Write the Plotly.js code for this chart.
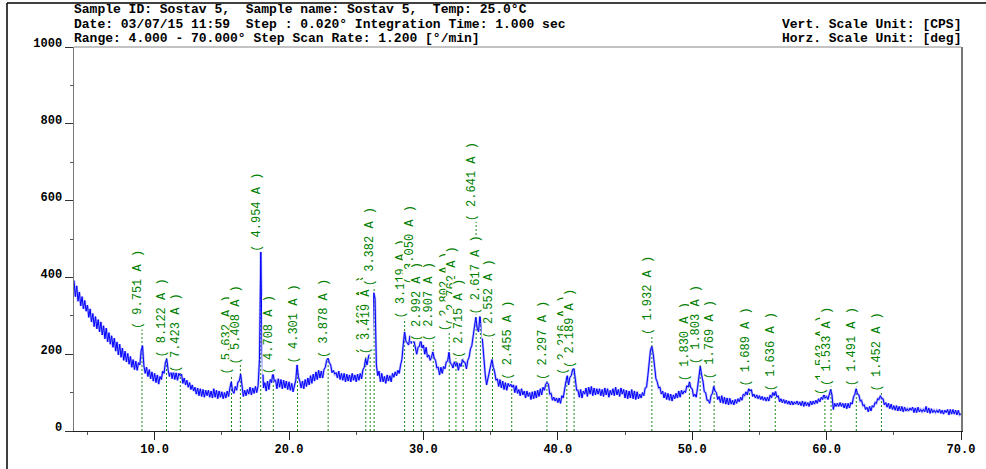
<!DOCTYPE html>
<html><head><meta charset="utf-8">
<script src="https://cdn.plot.ly/plotly-3.0.1.min.js"></script>
<style>html,body{margin:0;padding:0;background:#fff}</style>
</head><body><div id="chart" style="width:986px;height:469px"></div>
<script>
// Scan grid (2-theta, degrees) used to place the sampled readings
const scanStart = 4.0;
const scanStep = 0.1;
// Intensity (CPS) every 0.1 deg, 4.0 .. 70.0 (upper/lower edge of the noisy trace)
const counts = [
392,350,378,338,362,326,350,318,340,312,
328,296,318,284,306,272,298,266,290,258,
284,250,274,240,268,232,256,226,248,218,
242,208,232,198,226,192,216,184,208,180,
202,174,194,166,186,160,182,158,178,172,
210,222,170,150,166,142,160,136,154,130,
150,126,146,122,142,134,156,150,178,188,
160,142,160,136,156,134,152,132,150,144,
148,124,138,120,132,114,126,108,120,104,
114,96,112,92,110,90,108,88,106,92,
106,88,104,86,110,88,106,84,104,88,
102,84,100,86,104,90,112,128,104,98,
116,106,128,130,148,112,90,106,92,108,
96,114,94,112,98,116,100,118,186,467,
206,112,126,104,130,108,134,126,154,130,
132,110,136,114,134,110,132,112,130,108,
128,106,124,102,122,132,172,140,130,112,
130,110,134,116,138,120,144,124,148,130,
154,134,158,138,156,138,160,166,184,190,
178,172,152,158,148,152,138,156,134,150,
132,150,128,148,130,146,128,150,132,146,
128,148,132,150,136,160,166,188,172,192,
212,232,248,360,345,172,144,156,128,150,
128,142,124,146,130,144,128,150,140,154,
144,158,150,172,186,226,258,234,230,224,
248,228,252,234,220,200,218,220,238,216,
224,200,218,192,198,184,192,206,190,184,
164,166,146,166,150,168,162,180,182,205,
176,174,164,180,170,178,158,176,168,186,
180,178,162,184,192,214,222,254,272,296,
268,258,298,276,224,172,146,120,138,146,
172,186,166,154,132,136,116,134,112,130,
108,126,106,124,116,122,114,120,100,118,
98,108,92,110,94,104,86,104,90,100,
82,102,84,104,86,106,90,110,94,114,
106,122,126,122,96,98,80,88,78,86,
74,86,72,92,86,112,128,144,120,140,
144,160,162,136,106,106,88,108,86,104,
96,112,90,114,96,116,92,112,94,110,
96,110,92,108,90,112,94,110,88,106,
94,110,92,114,94,108,90,112,96,108,
86,106,84,104,86,108,84,104,82,102,
84,96,86,100,92,112,114,144,172,212,
220,200,168,136,128,112,114,96,104,86,
100,82,98,80,96,78,94,84,98,86,
104,88,106,96,104,100,118,114,128,112,
110,90,96,88,114,138,168,146,130,102,
100,80,80,72,92,98,116,104,100,82,
90,74,92,72,88,70,86,68,85,70,
80,68,82,72,84,76,88,80,96,92,
102,94,110,104,108,90,96,86,94,84,
92,82,90,80,88,78,88,78,94,86,
100,92,104,88,92,76,84,74,82,72,
80,70,78,68,78,68,76,70,78,68,
76,66,78,64,76,66,74,64,78,68,
78,70,80,72,84,76,88,82,96,86,
90,82,100,108,94,56,72,64,72,64,
74,64,72,60,72,58,72,60,74,70,
88,96,110,96,94,78,80,66,68,56,
62,50,64,52,66,62,74,72,84,82,
92,84,84,68,74,62,72,58,70,56,
66,54,66,52,64,52,64,50,62,52,
58,52,60,54,62,48,60,48,62,50,
56,50,56,50,64,48,60,46,58,48,
54,48,54,48,56,46,54,44,54,48,
56,42,56,44,56,44,54,42,54,42,
45
];

// Peak markers: d-spacing labels, positions (2-theta) and label base heights (CPS)
const peakD = ["9.751","8.122","7.423","5.632","5.408","4.954","4.708","4.301","3.878","3.463","3.419","3.382",
  "3.119","3.050","2.992","2.907","2.802","2.762","2.715","2.641","2.617","2.552","2.455","2.297",
  "2.216","2.189","1.932","1.830","1.803","1.769","1.689","1.636","1.543","1.533","1.491","1.452"];
const peakTwoTheta = [9.06,10.88,11.91,15.72,16.38,17.89,18.83,20.63,22.91,25.71,26.04,26.33,
  28.60,29.26,29.84,30.73,31.92,32.42,32.96,33.92,34.24,35.14,36.57,39.19,
  40.67,41.21,47.00,49.79,50.59,51.63,54.27,56.18,59.87,60.33,62.21,64.08];
const peakLabelBase = [264,191,152,147,173,467,147,176,189,199,199,376,
  293,382,233,233,259,276,189,545,303,241,134,134,
  147,163,251,129,173,134,116,103,95,116,116,103];

const headerLeft = [
  "Sample ID: Sostav 5,\u00a0\u00a0Sample name: Sostav 5,\u00a0\u00a0Temp: 25.0°C",
  "Date: 03/07/15 11:59\u00a0\u00a0Step : 0.020° Integration Time: 1.000 sec",
  "Range: 4.000 - 70.000° Step Scan Rate: 1.200 [°/min]"
];
const headerRight = ["Vert. Scale Unit: [CPS]", "Horz. Scale Unit: [deg]"];

const twoTheta = counts.map((_, i) => +(scanStart + i * scanStep).toFixed(2));

// dotted marker lines
const lx = [], ly = [];
peakTwoTheta.forEach((t, i) => { lx.push(t, t, null); ly.push(0, peakLabelBase[i], null); });

const traces = [
  {x: lx, y: ly, type: 'scatter', mode: 'lines', hoverinfo: 'skip',
   line: {color: '#1a8a1a', width: 1, dash: '2px,2px'}},
  {x: twoTheta, y: counts, type: 'scatter', mode: 'lines',
   line: {color: 'rgba(100,100,255,0.5)', width: 2.4}},
  {x: twoTheta, y: counts, type: 'scatter', mode: 'lines',
   line: {color: '#0000ff', width: 1}}
];

const mono = "'Liberation Mono', 'DejaVu Sans Mono', monospace";
const L = 74, R = 25, T = 47, B = 38, W = 986, H = 469;
const pw = W - L - R, ph = H - T - B;
const px = v => (v - L) / pw;
const py = v => (H - B - v) / ph;

const annotations = [];
peakD.forEach((d, i) => {
  annotations.push({
    x: peakTwoTheta[i], y: peakLabelBase[i], xref: 'x', yref: 'y',
    text: '( ' + d + ' A )', showarrow: false, textangle: -90,
    xanchor: 'center', yanchor: 'bottom', xshift: -4,
    bgcolor: '#ffffff', borderpad: 0, borderwidth: 0,
    font: {family: mono, size: 12, color: '#008000'}
  });
});
const headerY = [10, 24.5, 38];
headerLeft.forEach((t, i) => annotations.push({
  x: 0, y: py(headerY[i]), xref: 'paper', yref: 'paper', text: t, showarrow: false,
  xanchor: 'left', yanchor: 'middle', height: 13, borderpad: 0, borderwidth: 0,
  font: {family: mono, size: 13, color: '#000', weight: 'bold'}
}));
headerRight.forEach((t, i) => annotations.push({
  x: 1, y: py(headerY[i + 1]), xref: 'paper', yref: 'paper', text: t, showarrow: false,
  xanchor: 'right', yanchor: 'middle', height: 13, borderpad: 0, borderwidth: 0,
  font: {family: mono, size: 13, color: '#000', weight: 'bold'}
}));

const shapes = [
  {type: 'line', xref: 'paper', yref: 'paper', x0: px(7), x1: px(7), y0: py(3), y1: py(469), line: {color: '#000', width: 1.5}},
  {type: 'line', xref: 'paper', yref: 'paper', x0: px(7), x1: px(986), y0: py(3), y1: py(3), line: {color: '#000', width: 1.5}},
  {type: 'line', xref: 'paper', yref: 'paper', x0: 0, x1: 1, y0: 1, y1: 1, line: {color: '#888', width: 1.2}}
];

const layout = {
  width: W, height: H, autosize: false,
  margin: {l: L, r: R, t: T, b: B, pad: 0},
  paper_bgcolor: '#fff', plot_bgcolor: '#fff', showlegend: false,
  xaxis: {range: [4, 70], showgrid: false, zeroline: false, showline: true, linecolor: '#222', linewidth: 1.3,
    tickmode: 'linear', tick0: 0, dtick: 10, tickformat: '.1f', ticks: 'outside', ticklen: 8, tickcolor: '#222',
    ticklabelstandoff: -2,
    minor: {tickmode: 'linear', tick0: 0, dtick: 5, ticks: 'outside', ticklen: 3, tickcolor: '#555'},
    tickfont: {family: mono, size: 12, color: '#000', weight: 'bold'}},
  yaxis: {range: [0, 1000], showgrid: false, zeroline: false, showline: true, linecolor: '#777', linewidth: 1.5,
    mirror: true,
    tickmode: 'linear', tick0: 0, dtick: 200, ticks: 'outside', ticklen: 8, tickcolor: '#333',
    ticklabelstandoff: 0, ticklabelshift: -4,
    minor: {tickmode: 'linear', tick0: 0, dtick: 100, ticks: 'outside', ticklen: 3, tickcolor: '#555'},
    tickfont: {family: mono, size: 12, color: '#000', weight: 'bold'}},
  annotations: annotations, shapes: shapes
};

Plotly.newPlot('chart', traces, layout, {staticPlot: true, displayModeBar: false});
</script></body></html>
